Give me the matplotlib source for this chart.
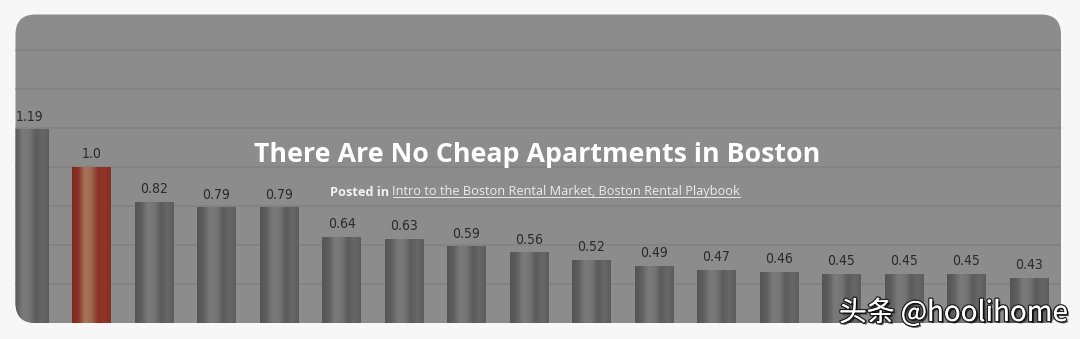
import numpy as np
import matplotlib
matplotlib.use("Agg")
import matplotlib.pyplot as plt
from matplotlib.patches import FancyBboxPatch
from matplotlib.transforms import IdentityTransform
from matplotlib.colors import LinearSegmentedColormap
import matplotlib.patheffects as pe

# ---- data ----
values = [1.19, 1.0, 0.82, 0.79, 0.79, 0.64, 0.63, 0.59, 0.56, 0.52,
          0.49, 0.47, 0.46, 0.45, 0.45, 0.45, 0.43]
value_labels = ["1.19", "1.0", "0.82", "0.79", "0.79", "0.64", "0.63", "0.59", "0.56",
                "0.52", "0.49", "0.47", "0.46", "0.45", "0.45", "0.45", "0.43"]
highlight = [False, True] + [False] * 15
grid_values = [0.4, 0.6, 0.8, 1.0, 1.2, 1.4, 1.6, 1.8]
title = "There Are No Cheap Apartments in Boston"
subtitle_lead = "Posted in "
subtitle_links = "Intro to the Boston Rental Market, Boston Rental Playbook"
watermark = "头条 @hoolihome"

# ---- style ----
W, H = 1080, 339
outer_bg = "#f7f7f8"
card_bg = "#8c8c8c"
grid_col = "#828282"
grey_stops = ["#555555", "#5e5e5e", "#7a7a7a", "#757575", "#5c5c5c", "#676767", "#5d5d5d"]
red_stops = ["#7f2a1f", "#8c3326", "#a8765e", "#a06650", "#8a3224", "#8f3628", "#842e21"]
bar_w = 0.61

fig = plt.figure(figsize=(W / 100, H / 100), dpi=100)
fig.patch.set_facecolor(outer_bg)
ax = fig.add_axes([0, 0, 1, 1])
ax.set_facecolor("none")
for s in ax.spines.values():
    s.set_visible(False)
ax.tick_params(length=0, labelbottom=False, labelleft=False)

x = np.arange(len(values))
# map: pixel x = 29 + 62.5*i ; pixel y(from top) = 362 - 195*v
xlim = ((0 - 29) / 62.5, (W - 29) / 62.5)
ylim = ((362 - H) / 195, 362 / 195)

# card
card = FancyBboxPatch((15.5, 16), 1045.5, 308.5,
                      boxstyle="round,pad=0,rounding_size=20",
                      transform=IdentityTransform(),
                      facecolor=card_bg, edgecolor="none", zorder=0)
ax.add_patch(card)

# gridlines
ax.set_yticks(grid_values)
ax.set_xticks([])
ax.yaxis.grid(True, color=grid_col, linewidth=1.2)
ax.set_axisbelow(True)
for gl in ax.yaxis.get_gridlines():
    gl.set_clip_path(card)
    gl.set_zorder(0.5)

# bars
bars = ax.bar(x, values, width=bar_w, color="none", edgecolor="none", zorder=2)
grey_cmap = LinearSegmentedColormap.from_list("g", grey_stops)
red_cmap = LinearSegmentedColormap.from_list("r", red_stops)
grad = np.linspace(0, 1, 256).reshape(1, -1)
for b, hl in zip(bars, highlight):
    x0, y0 = b.get_x(), b.get_y()
    im = ax.imshow(grad, cmap=red_cmap if hl else grey_cmap, aspect="auto",
                   extent=(x0, x0 + b.get_width(), y0, y0 + b.get_height()),
                   zorder=2.1, interpolation="bilinear")
    im.set_clip_path(card)
ax.set_xlim(*xlim)
ax.set_ylim(*ylim)

# value labels
for xi, v, lab in zip(x, values, value_labels):
    ax.annotate(lab, (xi, v), xytext=(0, 9.5), textcoords="offset points",
                ha="center", va="center", fontsize=10, color="#2a2a2a",
                family=["DejaVu Sans"], fontstretch="condensed", zorder=3)

# title and subtitle
fig.text(537 / W, 1 - 155 / H, title, ha="center", va="center", color="white",
         fontsize=19.3, fontweight="bold", family=["Open Sans", "DejaVu Sans"], zorder=4)
lead = fig.text(330 / W, 1 - 192 / H, subtitle_lead, ha="left", va="center",
                color="#f2f2f2", fontsize=9.2, fontweight="bold",
                family=["Open Sans", "DejaVu Sans"], zorder=4)
fig.canvas.draw()
bb = lead.get_window_extent()
link = fig.text(bb.x1 / W, 1 - 192 / H, subtitle_links, ha="left", va="center",
                color="#ececec", fontsize=9.2, family=["Open Sans", "DejaVu Sans"], zorder=4)
fig.canvas.draw()
lb = link.get_window_extent()
fig.add_artist(plt.Line2D([lb.x0 / W, lb.x1 / W], [(lb.y0 + 1.5) / H] * 2,
                          color="#e6e6e6", linewidth=0.7, zorder=4))

# watermark
fig.text(1068 / W, 1 - 313 / H, watermark, ha="right", va="center", color="white",
         fontsize=20, family=["Noto Sans CJK SC", "DejaVu Sans"], zorder=5,
         path_effects=[pe.withStroke(linewidth=2, foreground="#222222"),
                       pe.SimplePatchShadow(offset=(1.5, -1.5), shadow_rgbFace="#000000", alpha=0.6),
                       pe.Normal()])

fig.savefig("out.png", dpi=100, facecolor=outer_bg)
